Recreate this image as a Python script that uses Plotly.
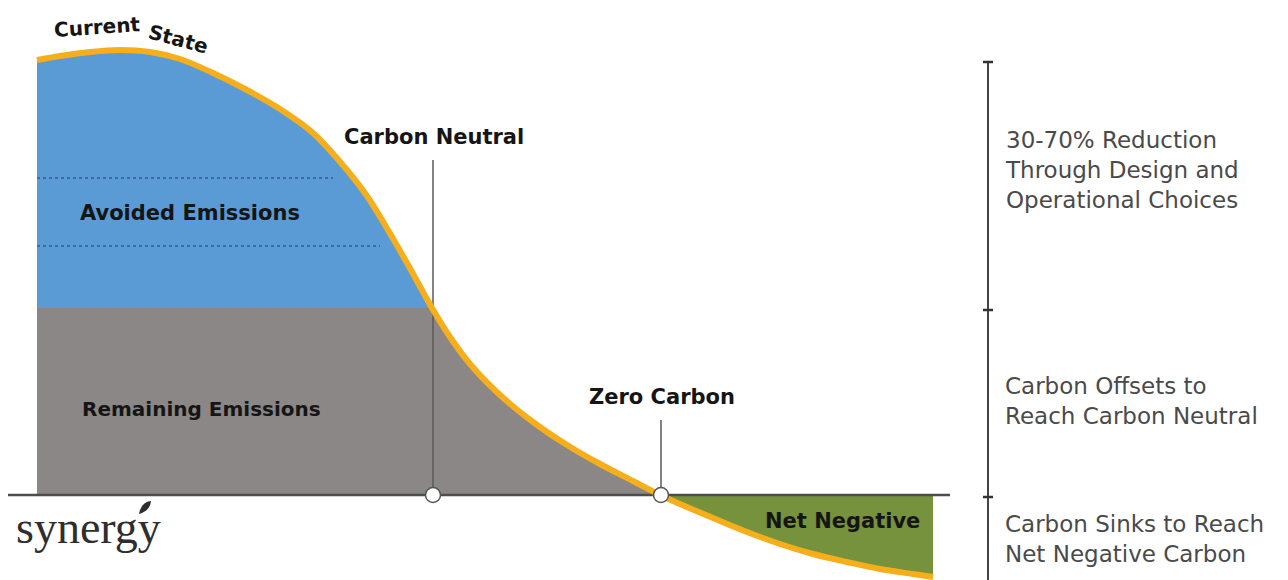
import plotly.graph_objects as go

# ---------------- data ----------------
# emission curve (x position along timeline, emission level; 0 = net zero baseline)
curve_x = [37, 60, 90, 120, 150, 180, 213, 247, 280, 313, 347, 367, 385, 407, 432, 450,
           470, 500, 533, 567, 600, 633, 660, 680, 713, 747, 780, 813, 847, 880, 913, 933]
curve_y = [435, 439, 443, 445, 443, 436, 422, 405, 386, 362, 325, 299, 270, 232, 187, 158,
           131, 100, 73, 50, 31, 14, 0, -9, -23, -37, -49, -59, -67, -74, -79, -82]
offset_level = 187          # level separating avoided vs remaining emissions
neutral_idx = 14            # curve index where curve meets offset level
zero_idx = 22               # curve index where curve crosses zero
milestone_x = [433, 661]
milestone_names = ["Carbon Neutral", "Zero Carbon"]
milestone_top = [335, 75]
dotted_levels = [317, 249]
dotted_ends = [333, 380]
bracket_ticks = [433, 185, -2]
bracket_notes = ["30-70% Reduction<br>Through Design and<br>Operational Choices",
                 "Carbon Offsets to<br>Reach Carbon Neutral",
                 "Carbon Sinks to Reach<br>Net Negative Carbon"]

BLUE = "#5b9bd5"
GRAY = "#8b8786"
GREEN = "#76923c"
ORANGE = "#f6ae1b"

fig = go.Figure()
x0 = curve_x[0]

# avoided emissions (blue)
bx = curve_x[:neutral_idx + 1] + [curve_x[neutral_idx], x0, x0]
by = curve_y[:neutral_idx + 1] + [offset_level, offset_level, curve_y[0]]
fig.add_trace(go.Scatter(x=bx, y=by, fill="toself", fillcolor=BLUE, mode="lines",
                         line=dict(width=0), hoverinfo="skip", showlegend=False))
# remaining emissions (gray)
gx = [x0] + curve_x[neutral_idx:zero_idx + 1] + [x0, x0]
gy = [offset_level] + curve_y[neutral_idx:zero_idx + 1] + [0, offset_level]
fig.add_trace(go.Scatter(x=gx, y=gy, fill="toself", fillcolor=GRAY, mode="lines",
                         line=dict(width=0), hoverinfo="skip", showlegend=False))
# net negative (green)
nx = curve_x[zero_idx:] + [curve_x[-1], curve_x[zero_idx]]
ny = curve_y[zero_idx:] + [0, 0]
fig.add_trace(go.Scatter(x=nx, y=ny, fill="toself", fillcolor=GREEN, mode="lines",
                         line=dict(width=0), hoverinfo="skip", showlegend=False))

# dotted lines in blue area
for lv, xe in zip(dotted_levels, dotted_ends):
    fig.add_trace(go.Scatter(x=[x0, xe], y=[lv, lv], mode="lines",
                             line=dict(color="#2f5f8f", width=1.5, dash="dot"),
                             hoverinfo="skip", showlegend=False))

# baseline
fig.add_trace(go.Scatter(x=[8, 950], y=[0, 0], mode="lines",
                         line=dict(color="#4d4d4d", width=2.5),
                         hoverinfo="skip", showlegend=False))

# milestone vertical lines
for mx, mt in zip(milestone_x, milestone_top):
    fig.add_trace(go.Scatter(x=[mx, mx], y=[0, mt], mode="lines",
                             line=dict(color="#5a5a5a", width=1.5),
                             hoverinfo="skip", showlegend=False))

# orange curve
fig.add_trace(go.Scatter(x=curve_x, y=curve_y, mode="lines",
                         line=dict(color=ORANGE, width=6, shape="spline", smoothing=1.0),
                         hoverinfo="skip", showlegend=False))

# milestone circles
fig.add_trace(go.Scatter(x=milestone_x, y=[0] * len(milestone_x), mode="markers",
                         marker=dict(size=15, color="white", line=dict(color="#555", width=1.5)),
                         hoverinfo="skip", showlegend=False))

# right bracket
fig.add_trace(go.Scatter(x=[988, 988], y=[bracket_ticks[0], -100], mode="lines",
                         line=dict(color="#444", width=2), hoverinfo="skip", showlegend=False))
for t in bracket_ticks:
    fig.add_trace(go.Scatter(x=[983, 993], y=[t, t], mode="lines",
                             line=dict(color="#333", width=2.5), hoverinfo="skip", showlegend=False))

BOLD = "DejaVu Sans"
ann = []
def label(text, x, y, size=21, xanchor="center", angle=0, color="#151515", family=BOLD, bold=True):
    ann.append(dict(text=("<b>%s</b>" % text) if bold else text, x=x, y=y, xref="x", yref="y",
                    showarrow=False, xanchor=xanchor, yanchor="middle", textangle=angle,
                    font=dict(family=family, size=size, color=color)))

label("Current", 97, 468, size=20, angle=-4)
label("State", 178, 456, size=20, angle=15)
label("Avoided Emissions", 190, 282)
label("Remaining Emissions", 201, 86, size=20)
for mx, mt, nm in zip(milestone_x, milestone_top, milestone_names):
    label(nm, mx + 1, mt + 23)
label("Net Negative", 922, -26, xanchor="right")

note_y = [325, 94, -44]
for ny_, txt in zip(note_y, bracket_notes):
    ann.append(dict(text=txt, x=1003, y=ny_, xref="x", yref="y", showarrow=False,
                    xanchor="left", yanchor="middle", align="left",
                    font=dict(family="DejaVu Sans", size=23, color="#4a4a4a")))

# logo
ann.append(dict(text="synergy", x=14, y=-32, xref="x", yref="y", showarrow=False,
                xanchor="left", yanchor="middle",
                font=dict(family="Liberation Serif", size=46, color="#2e2e2e")))

fig.add_shape(type="path",
              path="M 139,-19 Q 141,-7 151,-6 Q 150,-16 139,-19 Z",
              xref="x", yref="y", fillcolor="#2e2e2e", line=dict(width=0))

# page body has an 8px margin: offset ranges so data units line up with the target layout
fig.update_layout(
    width=1288, height=580,
    margin=dict(l=0, r=0, t=0, b=0),
    paper_bgcolor="white", plot_bgcolor="white",
    xaxis=dict(range=[8, 1296], visible=False, fixedrange=True),
    yaxis=dict(range=[-93, 487], visible=False, fixedrange=True),
    annotations=ann,
    showlegend=False,
)

fig.write_html("out.html")
